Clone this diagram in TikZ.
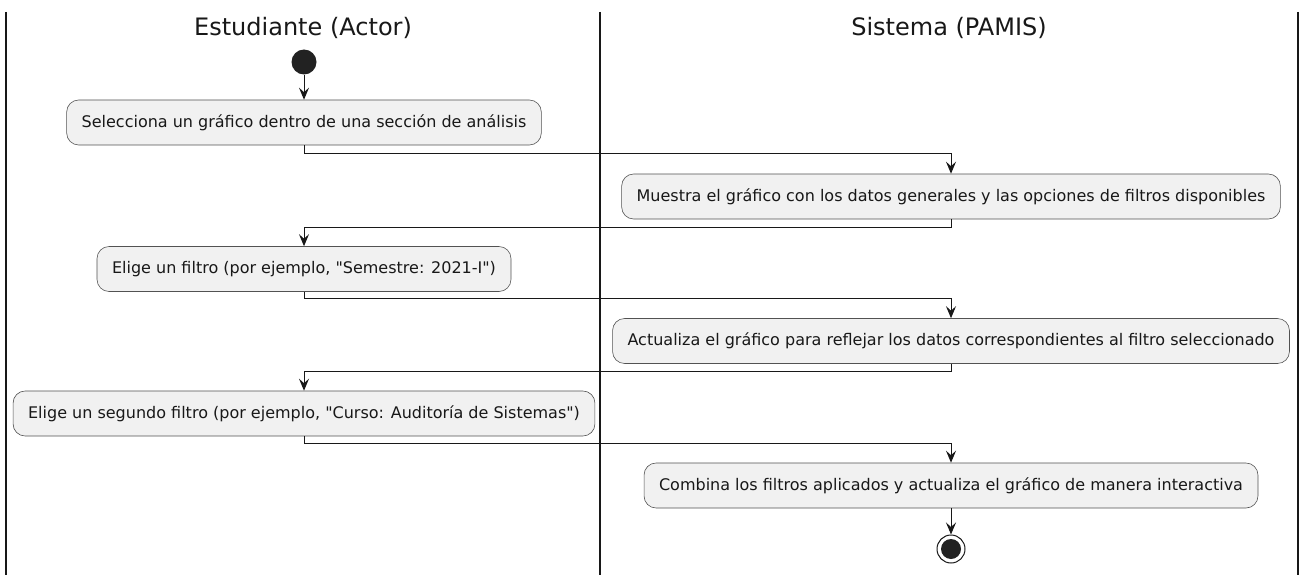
\documentclass[tikz,border=0pt]{standalone}
\usepackage{fontspec}
\setmainfont{DejaVu Sans}[Ligatures=TeXOff]
\usetikzlibrary{arrows.meta}
\definecolor{ink}{HTML}{181818}
\definecolor{boxfill}{HTML}{F1F1F1}
\definecolor{dot}{HTML}{222222}

\begin{document}
\begin{tikzpicture}[x=1pt,y=-1pt,
  lane/.style={ink, line width=1.4pt},
  lanetitle/.style={font=\fontsize{24}{28}\selectfont, text=ink},
  action/.style={draw=ink!75, fill=boxfill, rounded corners=12pt, line width=0.6pt,
    minimum height=45pt, inner xsep=15pt, font=\fontsize{16}{19}\selectfont, text=ink},
  flow/.style={ink, line width=1pt, -{Stealth[length=12pt,width=10pt,inset=4.5pt]}}]
  \useasboundingbox[fill=white] (0,0) rectangle (1306,575);

  % swimlanes
  \foreach \x in {6,600,1298}
    \draw[lane] (\x,12) -- (\x,575);
  \node[lanetitle] (actor) at (303,28) {Estudiante (Actor)};
  \node[lanetitle] (pamis) at (949,28) {Sistema (PAMIS)};

  % actions
  \node[circle, fill=dot, minimum size=25pt, inner sep=0pt] (start) at (304,62) {};
  \node[action] (sel) at (304,122.5) {Selecciona un gráfico dentro de una sección de análisis};
  \node[action] (muestra) at (951,196.5) {Muestra el gráfico con los datos generales y las opciones de filtros disponibles};
  \node[action] (elige) at (304,269) {Elige un filtro (por ejemplo, "Semestre: 2021-I")};
  \node[action] (actualiza) at (951,341) {Actualiza el gráfico para reflejar los datos correspondientes al filtro seleccionado};
  \node[action] (elige2) at (304,413.5) {Elige un segundo filtro (por ejemplo, "Curso: Auditoría de Sistemas")};
  \node[action] (combina) at (951,485.5) {Combina los filtros aplicados y actualiza el gráfico de manera interactiva};
  \node[circle, draw=ink, line width=1pt, fill=white, minimum size=28pt, inner sep=0pt] (stop) at (951,549) {};
  \fill[dot] (stop.center) circle (10pt);

  % flow
  \draw[flow] (start) -- (sel);
  \draw[flow] (sel.south) -- ++(0,8) -| (muestra.north);
  \draw[flow] (muestra.south) -- ++(0,8) -| (elige.north);
  \draw[flow] (elige.south) -- ++(0,7) -| (actualiza.north);
  \draw[flow] (actualiza.south) -- ++(0,8) -| (elige2.north);
  \draw[flow] (elige2.south) -- ++(0,7) -| (combina.north);
  \draw[flow] (combina) -- (stop);
\end{tikzpicture}
\end{document}
